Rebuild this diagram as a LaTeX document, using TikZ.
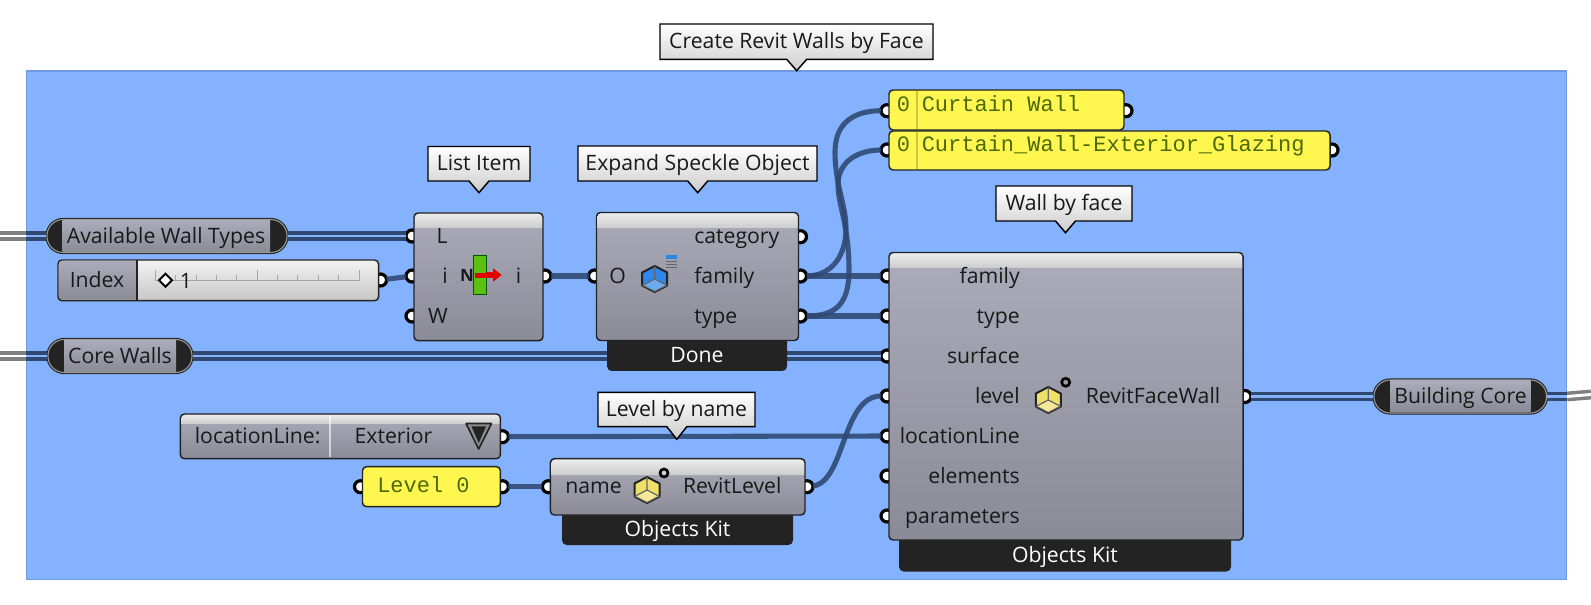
\documentclass[tikz,border=0pt]{standalone}
\usepackage{fontspec}
\usetikzlibrary{fit}
\setmainfont{Open Sans}
\newfontfamily\gbmono{Liberation Mono}

\definecolor{gbblue}{HTML}{85B2FF}
\definecolor{gbedge}{HTML}{6F9BE0}
\definecolor{gbwire}{HTML}{2E4870}
\definecolor{gbdark}{HTML}{232323}
\definecolor{gbyellow}{HTML}{FFF650}
\definecolor{gbcubey}{HTML}{EFE06A}
\definecolor{gbcubeb}{HTML}{2F86EA}
\definecolor{gbtop}{HTML}{ABABB9}
\definecolor{gbbot}{HTML}{8B8B98}
\definecolor{gbcode}{HTML}{4C6A08}
\definecolor{gbgreen}{HTML}{5CC010}
\definecolor{gblime}{HTML}{A6F040}

\tikzset{
  gbgroup/.style={draw=gbedge,line width=0.9pt,fill=gbblue,inner sep=0pt},
  gbcomp/.style={draw=gbdark,line width=1.1pt,rounded corners=3pt,top color=gbtop,bottom color=gbbot,inner sep=0pt},
  gbband/.style={top color=black!8,bottom color=black!20},
  gbstrip/.style={fill=gbdark,rounded corners=3.5pt,inner sep=0pt},
  gbport/.style={circle,draw=black,fill=white,line width=2.4pt,minimum size=9pt,inner sep=0pt,outer sep=0pt},
  gbwire/.style={draw=gbwire,line width=3.8pt,draw opacity=0.88},
  gblist/.style={draw=gbwire,line width=2.6pt,double=gbblue,double distance=2.2pt},
  gbout/.style={draw=black!50,line width=2.6pt,double=white,double distance=2.2pt},
  gbpill/.style={draw=black!40,line width=0.8pt,fill=gbdark,rounded corners=12.2pt,inner sep=0pt,preaction={draw=gbdark,line width=2.4pt}},
  gbbody/.style={top color=gbtop,bottom color=gbbot,inner sep=0pt},
  gbpanel/.style={draw=gbdark,line width=1.1pt,fill=gbyellow,rounded corners=3pt,inner sep=0pt},
  gbtip/.style={draw=black,line width=1.1pt,top color=white,bottom color=black!20},
  gbtext/.style={font=\fontsize{15.9}{18}\selectfont,text=black!90,inner sep=0pt,text height=13.2pt,text depth=2.3pt},
  gbwhite/.style={gbtext,text=white},
  gbcode/.style={font=\fontsize{16.5}{18}\gbmono\selectfont,text=gbcode,inner sep=0pt,text height=12.5pt,text depth=0.5pt},
  pics/gbcube/.style={code={
    \draw[pic actions,draw=gbdark,line width=1.5pt,line join=round] (0,-13) -- (12.5,-6.5) -- (12.5,6.5) -- (0,13) -- (-12.5,6.5) -- (-12.5,-6.5) -- cycle;
    \fill[white,opacity=0.3] (0,-13) -- (12.5,-6.5) -- (0,0) -- (-12.5,-6.5) -- cycle;
    \draw[draw=gbdark!70,line width=0.9pt] (-12.5,-6.5) -- (0,0) -- (12.5,-6.5) (0,0) -- (0,13);
  }},
}

\begin{document}
\begin{tikzpicture}[x=0.75pt,y=0.75pt,yscale=-1,xscale=1]
\useasboundingbox (0,0) rectangle (1591,605);

%Shape: Group
\node [gbgroup,fit={(26.5,71)(1566.5,579.5)}] (blue) {};
%Straight Lines: outside the group
\coordinate (availfar) at (0,236);
\coordinate (availedge) at (26,236);
\coordinate (corefar) at (0,356);
\coordinate (coreedge) at (26,356);
\coordinate (buildedge) at (1567,396.5);
\coordinate (buildfar) at (1591,394.5);
\draw [gbout] (availfar) -- (availedge);
\draw [gbout] (corefar) -- (coreedge);
\draw [gbout] (buildedge) -- (buildfar);

%Shape: Pills
\node [gbpill,fit={(47,219.5)(287,252.5)}] (availpill) {};
\node [gbpill,fit={(48,339.5)(192,372.5)}] (corepill) {};
\node [gbpill,fit={(1374,380)(1546.5,413)}] (buildpill) {};
\node [gbbody,fit={(62.5,220.5)(270,251.5)}] (availbody) {};
\node [gbbody,fit={(64,340.5)(176,371.5)}] (corebody) {};
\node [gbbody,fit={(1390,381)(1530.5,412)}] (buildbody) {};

%Shape: Ports
\node [gbport] (listL) at (412,236) {};
\node [gbport] (listi) at (412,276) {};
\node [gbport] (listW) at (412,316) {};
\node [gbport] (listout) at (545,276) {};
\node [gbport] (expO) at (594.5,276) {};
\node [gbport] (expcat) at (800.5,236.7) {};
\node [gbport] (expfam) at (800.5,276) {};
\node [gbport] (exptype) at (800.5,316) {};
\node [gbport] (mfamily) at (887,276) {};
\node [gbport] (mtype) at (887,316) {};
\node [gbport] (msurface) at (887,356) {};
\node [gbport] (mlevel) at (887,396) {};
\node [gbport] (mline) at (887,436) {};
\node [gbport] (melements) at (887,476) {};
\node [gbport] (mparams) at (887,516) {};
\node [gbport] (mout) at (1245,396.5) {};
\node [gbport] (lvlin) at (548.4,486.7) {};
\node [gbport] (lvlout) at (807,486.7) {};
\node [gbport] (cwin) at (887,110.7) {};
\node [gbport] (cwout) at (1126,110.7) {};
\node [gbport] (glzin) at (887,150) {};
\node [gbport] (glzout) at (1332,150) {};
\node [gbport] (panelin) at (360.5,486.7) {};
\node [gbport] (panelout) at (502.4,486.7) {};
\node [gbport] (sliderout) at (380.6,280) {};
\node [gbport] (dropout) at (502.4,436.7) {};

%Straight Lines
\draw [gblist] (availedge) -- (availpill.west);
\draw [gblist] (coreedge) -- (corepill.west);
\draw [gblist] (availpill.east) -- (listL);
\draw [gblist] (corepill.east) -- (msurface);
\draw [gblist] (mout) -- (buildpill.west);
\draw [gblist] (buildpill.east) -- (buildedge);
\draw [gbwire] (sliderout) -- (listi);
\draw [gbwire] (listout) -- (expO);
\draw [gbwire] (expfam) -- (mfamily);
\draw [gbwire] (exptype) -- (mtype);
\draw [gbwire] (dropout) -- (mline);
\draw [gbwire] (panelout) -- (lvlin);
%Curves
\draw [gbwire] (expfam) .. controls (830,276) and (846,258) .. (846,228) .. controls (846,205) and (835,185) .. (835,152) .. controls (835,122) and (855,110.7) .. (cwin);
\draw [gbwire] (exptype) .. controls (835,316) and (849,305) .. (849,270) .. controls (849,225) and (838,205) .. (838,185) .. controls (838,160) and (860,150) .. (glzin);
\draw [gbwire] (lvlout) .. controls (845,482) and (842,396) .. (mlevel);

%Shape: Strips
\node [gbstrip,fit={(607,330)(787,371)}] (expstrip) {};
\node [gbstrip,fit={(562,500)(793,545)}] (lvlstrip) {};
\node [gbstrip,fit={(899,530)(1231,571.5)}] (mstrip) {};

%Shape: Components
\node [gbcomp,fit={(414,213)(543,340.7)}] (list) {};
\node [gbcomp,fit={(596.5,212.5)(798.5,340.5)}] (expand) {};
\node [gbcomp,fit={(889,252.5)(1243,540)}] (main) {};
\node [gbcomp,fit={(550.4,458.7)(805,515)}] (lvl) {};
\node [gbcomp,fit={(180.4,414)(500.4,458.7)}] (drop) {};
\path [gbband] (415,228) [rounded corners=2.5pt] -- (415,214) -- (542,214) [sharp corners] -- (542,228) -- cycle;
\path [gbband] (597.5,228) [rounded corners=2.5pt] -- (597.5,213.5) -- (797.5,213.5) [sharp corners] -- (797.5,228) -- cycle;
\path [gbband] (890,268) [rounded corners=2.5pt] -- (890,253.5) -- (1242,253.5) [sharp corners] -- (1242,268) -- cycle;
\path [gbband] (551.4,475) [rounded corners=2.5pt] -- (551.4,459.7) -- (804,459.7) [sharp corners] -- (804,475) -- cycle;
\path [gbband] (181.4,424) [rounded corners=2.5pt] -- (181.4,415) -- (499.4,415) [sharp corners] -- (499.4,424) -- cycle;
\draw [white,line width=0.8pt,opacity=0.6] (330,416) -- (330,457);

%Shape: Slider
\node [gbcomp,fit={(58,260)(378.6,300.7)},top color=black!5,bottom color=black!22] (slider) {};
\path [gbbody] (137,261) [rounded corners=2.5pt] -- (59,261) -- (59,299.7) [sharp corners] -- (137,299.7) -- cycle;
\draw [gbdark,line width=1pt] (137,260) -- (137,300.7);
\draw [black!35,line width=0.7pt] (155.4,280.7) -- (359,280.7);
\foreach \k in {0,...,10}
  \draw [black!35,line width=0.7pt] (155.4+20.36*\k,280.7) -- (155.4+20.36*\k,275);
\foreach \k in {0,5,10}
  \draw [black!35,line width=0.7pt] (155.4+20.36*\k,280.7) -- (155.4+20.36*\k,270);
\draw [black,fill=white,line width=1.4pt] (165.5,273.7) -- (172,280.2) -- (165.5,286.7) -- (159,280.2) -- cycle;

%Shape: Panels
\node [gbpanel,fit={(889,90)(1124,130)}] (cw) {};
\node [gbpanel,fit={(889,131)(1330,170)}] (glz) {};
\node [gbpanel,fit={(362.5,466.7)(500.4,506.7)}] (panel) {};
\draw [black!20!gbyellow,line width=0.8pt] (917,91) -- (917,129);
\draw [black!20!gbyellow,line width=0.8pt] (917,132) -- (917,169);

%Shape: Dropdown arrow
\draw [gbdark,fill=black!45,line width=1.2pt,line join=round] (466,423.5) -- (491.5,423.5) -- (478.7,449) -- cycle;
\fill [gbdark] (471.5,426.5) -- (486,426.5) -- (478.7,443) -- cycle;

%Shape: List icon
\path [left color=gbgreen,middle color=gblime,right color=gbgreen] (474,256) rectangle (486.2,294);
\draw [green!35!black,line width=1pt] (473.5,255.5) rectangle (486.7,294.5);
\fill [red!90!black] (475,272.7) rectangle (485.5,278.3);
\fill [red!90!black] (485.5,272.2) -- (493,272.2) -- (493,268.3) -- (501.7,275) -- (493,281.7) -- (493,277.8) -- (485.5,277.8) -- cycle;

%Shape: Cubes
\pic [fill=gbcubeb] at (654.7,279) {gbcube};
\pic [fill=gbcubey] at (647,490) {gbcube};
\pic [fill=gbcubey] at (1048.3,400) {gbcube};
\draw [black,line width=2pt] (1065.7,382.3) circle [radius=4];
\draw [black,line width=2pt] (664,473) circle [radius=4];
\fill [gbcubeb] (665.5,255.5) rectangle (677,259);
\foreach \k in {261.5,264.5,267.5}
  \draw [gbdark!70,line width=1pt] (666,\k) -- (677,\k);

% Text Node
\node [gbtext] (availtxt) at (166,236) {Available Wall Types};
\node [gbtext] (coretxt) at (120,356) {Core Walls};
\node [gbtext] (buildtxt) at (1460.5,396) {Building Core};
\node [gbtext] (indextxt) at (97,280) {Index};
\node [gbtext] (slidertxt) at (186,281) {1};
\node [gbtext,anchor=east] (tL) at (448,236) {L};
\node [gbtext,anchor=east] (ti) at (448,276) {i};
\node [gbtext,anchor=east] (tW) at (448,316) {W};
\node [gbtext,anchor=west] (tiout) at (515.5,276) {i};
\node [gbtext,font=\fontsize{12.7}{14}\selectfont\bfseries] (tN) at (467,274.5) {N};
\node [gbtext] (tO) at (617.5,276) {O};
\node [gbtext,anchor=west] (tcat) at (694,236.7) {category};
\node [gbtext,anchor=west] (tfam) at (694,276) {family};
\node [gbtext,anchor=west] (ttype) at (694,316) {type};
\node [gbwhite] (tdone) at (697,355) {Done};
\node [gbtext,anchor=east] (tmfamily) at (1020,276) {family};
\node [gbtext,anchor=east] (tmtype) at (1020,316) {type};
\node [gbtext,anchor=east] (tmsurface) at (1020,356) {surface};
\node [gbtext,anchor=east] (tmlevel) at (1020,396) {level};
\node [gbtext,anchor=east] (tmline) at (1020,436) {locationLine};
\node [gbtext,anchor=east] (tmelements) at (1020,476) {elements};
\node [gbtext,anchor=east] (tmparams) at (1020,516) {parameters};
\node [gbtext,anchor=east] (tmout) at (1220.5,396.5) {RevitFaceWall};
\node [gbwhite] (tmkit) at (1065,555) {Objects Kit};
\node [gbtext,anchor=west] (tname) at (565,486.7) {name};
\node [gbtext,anchor=east] (tlvlout) at (781.7,486.7) {RevitLevel};
\node [gbwhite] (tlvlkit) at (677.5,529) {Objects Kit};
\node [gbtext,anchor=west] (tdrop) at (194.6,436) {locationLine:};
\node [gbtext] (tdropval) at (393.5,436) {Exterior};
\node [gbcode] (tzero) at (903.5,104) {0};
\node [gbcode,anchor=west] (tcw) at (921.5,104) {Curtain Wall};
\node [gbcode] (tzerob) at (903.5,144) {0};
\node [gbcode,anchor=west] (tglz) at (921.5,144) {Curtain\_Wall-Exterior\_Glazing};
\node [gbcode,anchor=west] (tpanel) at (377,484) {Level 0};

%Shape: Tooltips
\draw [gbtip] (660,24) -- (933,24) -- (933,59.3) -- (806.7,59.3) -- (796.7,70.7) -- (786.7,59.3) -- (660,59.3) -- cycle;
\draw [gbtip] (428,146.5) -- (530,146.5) -- (530,181) -- (489,181) -- (479,192.7) -- (469,181) -- (428,181) -- cycle;
\draw [gbtip] (578,146) -- (817,146) -- (817,181) -- (707.7,181) -- (697.7,192.7) -- (687.7,181) -- (578,181) -- cycle;
\draw [gbtip] (996,186) -- (1132,186) -- (1132,221) -- (1075.5,221) -- (1065.5,232.7) -- (1055.5,221) -- (996,221) -- cycle;
\draw [gbtip] (598,392.3) -- (755,392.3) -- (755,426.7) -- (686.8,426.7) -- (676.8,439.3) -- (666.8,426.7) -- (598,426.7) -- cycle;
\node [gbtext] (tipcreate) at (796.5,41.5) {Create Revit Walls by Face};
\node [gbtext] (tiplist) at (479,163.5) {List Item};
\node [gbtext] (tipexpand) at (697.5,163.5) {Expand Speckle Object};
\node [gbtext] (tipwall) at (1064,203.5) {Wall by face};
\node [gbtext] (tiplevel) at (676.5,409.5) {Level by name};

\end{tikzpicture}
\end{document}
